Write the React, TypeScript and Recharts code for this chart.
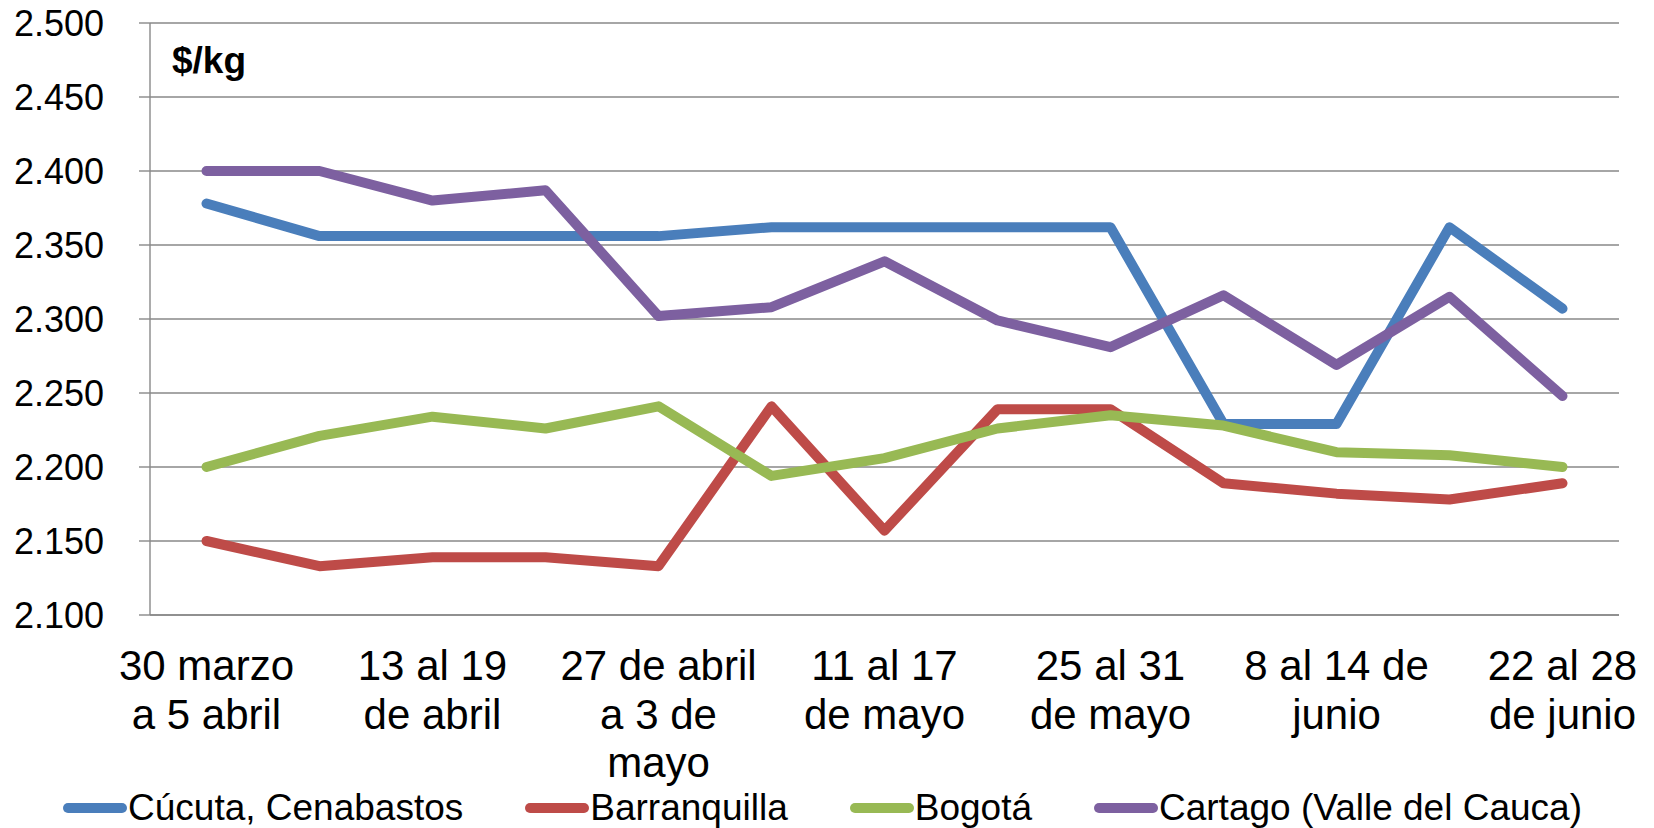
import React from 'react';
import { LineChart, Line, XAxis, YAxis, CartesianGrid, Legend, Customized } from 'recharts';

// Weekly price per kg, in pesos
const WEEKS = [
  '30 marzo\na 5 abril',
  '6 al 12\nde abril',
  '13 al 19\nde abril',
  '20 al 26\nde abril',
  '27 de abril\na 3 de\nmayo',
  '4 al 10\nde mayo',
  '11 al 17\nde mayo',
  '18 al 24\nde mayo',
  '25 al 31\nde mayo',
  '1 al 7 de\njunio',
  '8 al 14 de\njunio',
  '15 al 21\nde junio',
  '22 al 28\nde junio',
];

const CUCUTA = [2378, 2356, 2356, 2356, 2356, 2362, 2362, 2362, 2362, 2229, 2229, 2362, 2307];
const BARRANQUILLA = [2150, 2133, 2139, 2139, 2133, 2241, 2157, 2239, 2239, 2189, 2182, 2178, 2189];
const BOGOTA = [2200, 2221, 2234, 2226, 2241, 2194, 2206, 2226, 2235, 2228, 2210, 2208, 2200];
const CARTAGO = [2400, 2400, 2380, 2387, 2302, 2308, 2339, 2299, 2281, 2316, 2269, 2315, 2248];

const Y_TICKS = [2100, 2150, 2200, 2250, 2300, 2350, 2400, 2450, 2500];

const SERIES = [
  { key: 'cucuta', name: 'Cúcuta, Cenabastos', color: '#4A7EBB', values: CUCUTA },
  { key: 'barranquilla', name: 'Barranquilla', color: '#BE4B48', values: BARRANQUILLA },
  { key: 'bogota', name: 'Bogotá', color: '#98B954', values: BOGOTA },
  { key: 'cartago', name: 'Cartago (Valle del Cauca)', color: '#7D60A0', values: CARTAGO },
];

const FONT = '"Liberation Sans", Arial, sans-serif';
const GRID = '#898989';

const data = WEEKS.map((week, i) => {
  const row: Record<string, string | number> = { week };
  SERIES.forEach((s) => {
    row[s.key] = s.values[i];
  });
  return row;
});

function WeekTick({ x, y, payload }: any) {
  const lines = String(payload.value).split('\n');
  return (
    <text x={x} y={y} textAnchor="middle" fontSize={42} fill="#000" fontFamily={FONT}>
      {lines.map((line, i) => (
        <tspan key={i} x={x} y={y + 65 + i * 48.5}>
          {line}
        </tspan>
      ))}
    </text>
  );
}

function LegendRow() {
  return (
    <div
      style={{
        height: 63,
        display: 'flex',
        alignItems: 'center',
        paddingLeft: 63,
        paddingTop: 22,
        boxSizing: 'border-box',
        fontFamily: FONT,
        fontSize: 37,
        color: '#000',
        gap: 62,
      }}
    >
      {SERIES.map((s) => (
        <div key={s.key} style={{ display: 'flex', alignItems: 'center' }}>
          <svg width={64} height={12} style={{ marginRight: 1 }}>
            <line x1={5} y1={6} x2={59} y2={6} stroke={s.color} strokeWidth={10} strokeLinecap="round" />
          </svg>
          <span style={{ lineHeight: '40px', whiteSpace: 'nowrap' }}>{s.name}</span>
        </div>
      ))}
    </div>
  );
}

export default function App() {
  return (
    <div style={{ width: 1654, height: 828, background: '#fff' }}>
      <style>{`body { margin: 0; }`}</style>
      <LineChart width={1654} height={828} data={data} margin={{ top: 23, right: 35, bottom: 0, left: 0 }}>
        <CartesianGrid vertical={false} stroke={GRID} strokeWidth={1.4} />
        <XAxis
          dataKey="week"
          interval={1}
          height={150}
          tickLine={false}
          tickSize={0}
          tickMargin={0}
          axisLine={{ stroke: GRID, strokeWidth: 1.4 }}
          padding={{ left: 56.5, right: 56.5 }}
          tick={<WeekTick />}
        />
        <YAxis
          width={150}
          domain={[2100, 2500]}
          ticks={Y_TICKS}
          allowDataOverflow
          tickFormatter={(v: number) => (v / 1000).toFixed(3)}
          tick={{ fontSize: 36, fill: '#000', fontFamily: FONT }}
          tickSize={11}
          tickMargin={35}
          tickLine={{ stroke: GRID, strokeWidth: 1.4 }}
          axisLine={{ stroke: GRID, strokeWidth: 1.4 }}
        />
        {SERIES.map((s) => (
          <Line
            key={s.key}
            type="linear"
            dataKey={s.key}
            name={s.name}
            stroke={s.color}
            strokeWidth={10}
            strokeLinecap="round"
            strokeLinejoin="round"
            dot={false}
            activeDot={false}
            isAnimationActive={false}
          />
        ))}
        <Legend
          verticalAlign="bottom"
          content={<LegendRow />}
          wrapperStyle={{ left: 0, width: 1654, bottom: 0 }}
        />
        <Customized
          component={() => (
            <text x={172} y={73} fontSize={37} fontWeight="bold" fill="#000" fontFamily={FONT}>
              $/kg
            </text>
          )}
        />
      </LineChart>
    </div>
  );
}
